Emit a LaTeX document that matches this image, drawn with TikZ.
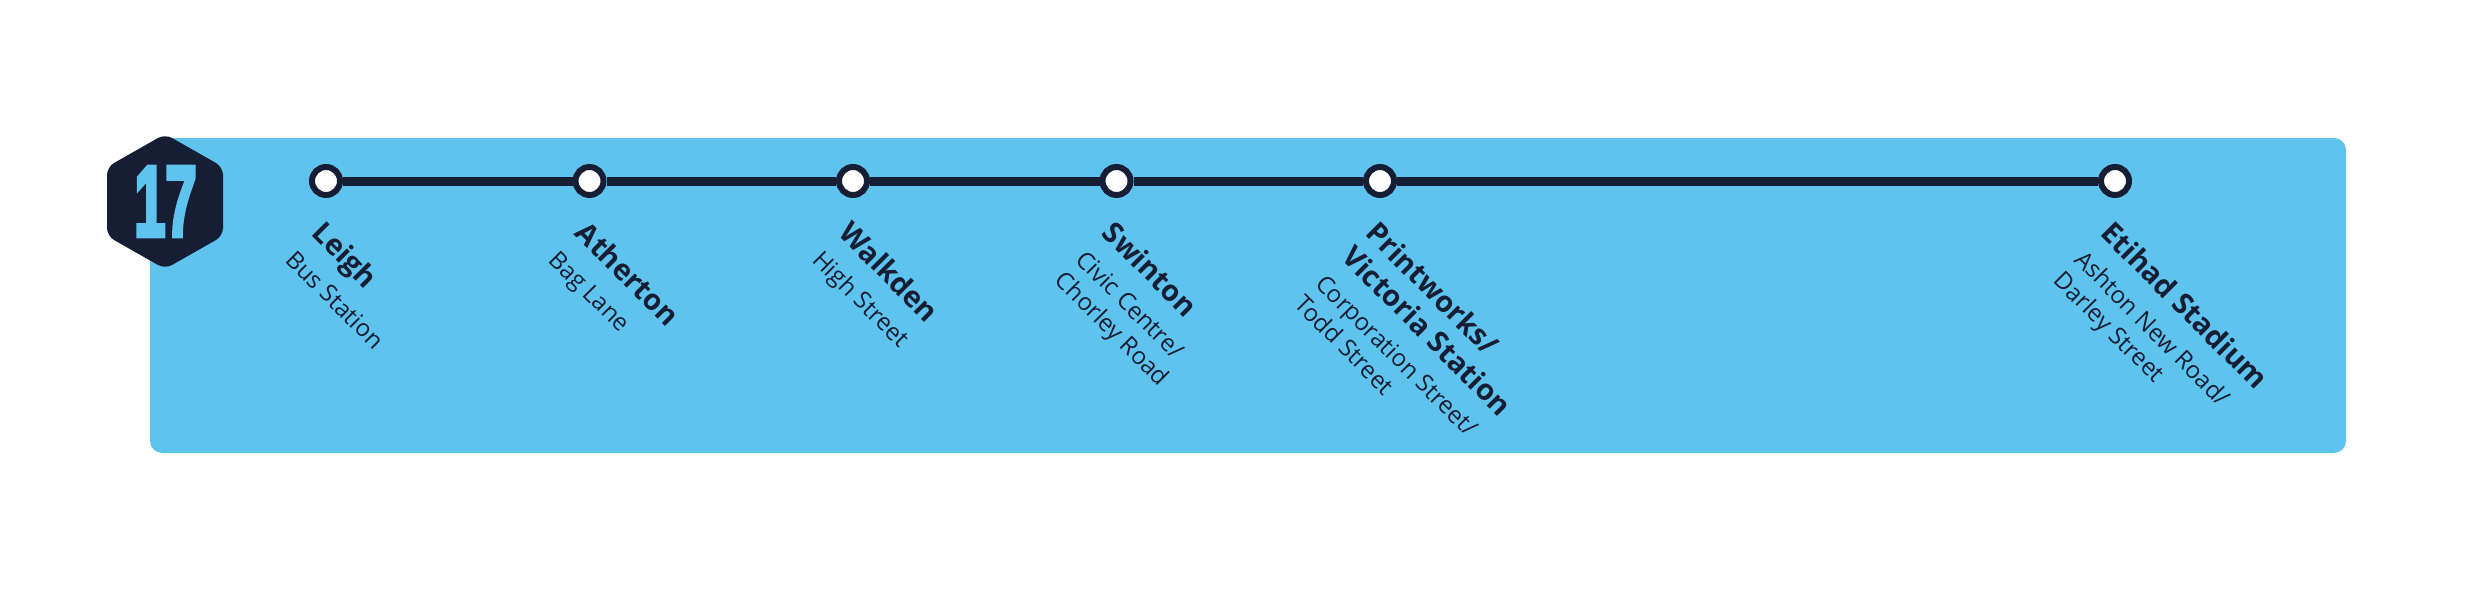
\documentclass[tikz,border=0pt]{standalone}
\usepackage{fontspec}
\setmainfont{Open Sans}
\newfontface\numfont[FakeBold=5]{Liberation Sans Bold}
\definecolor{routeblue}{RGB}{94,196,237}
\definecolor{navy}{RGB}{22,30,53}
\newcommand\stnbold{\fontsize{29}{34}\selectfont\bfseries}
\begin{document}
\begin{tikzpicture}[x=1pt,y=-1pt,
  stop/.style={circle,draw=navy,fill=white,line width=6pt,minimum size=28pt,inner sep=0pt},
  route/.style={draw=navy,line width=9pt},
  lbl/.style={rotate=-45,anchor=north west,inner sep=0pt,align=left,text=navy,font=\fontsize{24}{29.5}\selectfont}]
\useasboundingbox (0,0) rectangle (2480,591);
\fill[routeblue, rounded corners=12pt] (150,138) rectangle (2346,453);
\fill[navy, rounded corners=8pt] (165,134) -- (223,167) -- (223,236) -- (165,269) -- (107,236) -- (107,167) -- cycle;
\node[text=routeblue,inner sep=0pt] (num) at (165.5,201.5) {\scalebox{0.56}[1]{\fontsize{100}{100}\selectfont\numfont 17}};
\node[stop] (s1) at (326,181) {};
\node[stop] (s2) at (589.5,181) {};
\node[stop] (s3) at (853,181) {};
\node[stop] (s4) at (1116.5,181) {};
\node[stop] (s5) at (1380,181) {};
\node[stop] (s6) at (2115,181) {};
\draw[route] (s1) -- (s2) (s2) -- (s3) (s3) -- (s4) (s4) -- (s5) (s5) -- (s6);
\node[lbl] (l1) at ([yshift=-38pt]s1.center) {{\stnbold Leigh}\\[7.5pt]Bus Station};
\node[lbl] (l2) at ([yshift=-38pt]s2.center) {{\stnbold Atherton}\\[7.5pt]Bag Lane};
\node[lbl] (l3) at ([yshift=-38pt]s3.center) {{\stnbold Walkden}\\[7.5pt]High Street};
\node[lbl] (l4) at ([yshift=-38pt]s4.center) {{\stnbold Swinton}\\[7.5pt]Civic Centre/\\Chorley Road};
\node[lbl] (l5) at ([yshift=-38pt]s5.center) {{\stnbold Printworks/}\\[4.5pt]{\stnbold Victoria Station}\\[7.5pt]Corporation Street/\\Todd Street};
\node[lbl] (l6) at ([yshift=-38pt]s6.center) {{\stnbold Etihad Stadium}\\[7.5pt]Ashton New Road/\\Darley Street};
\end{tikzpicture}
\end{document}
